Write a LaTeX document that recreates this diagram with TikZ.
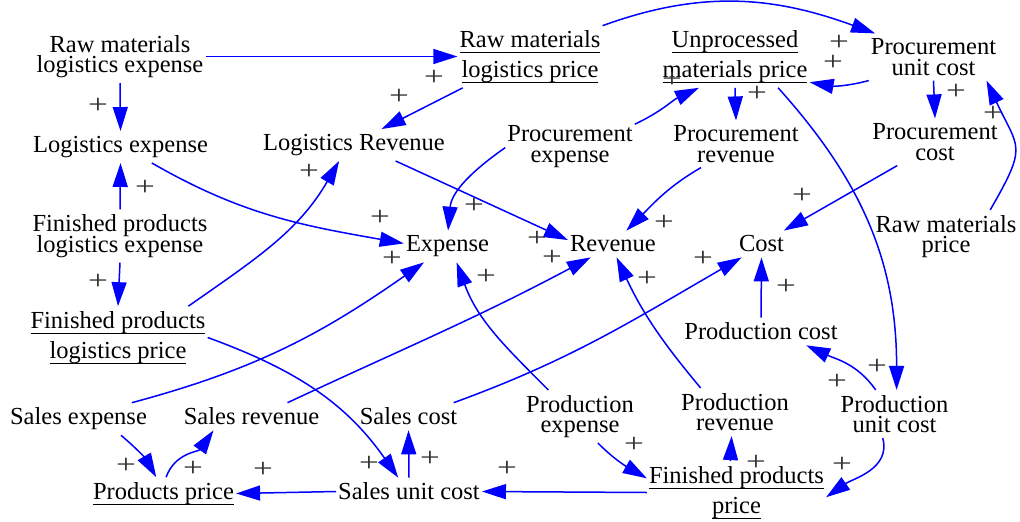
\documentclass[tikz,border=0pt]{standalone}
\usepackage{fontspec}
\setmainfont{Liberation Serif}
\usetikzlibrary{arrows.meta}
% underline drawn at a fixed distance below the baseline
\newcommand\ulin[1]{\setbox0\hbox{#1}\rlap{\smash{\rule[-6pt]{\wd0}{1.8pt}}}\box0}
\newcommand\varfont{\fontsize{24.5}{20.5}\selectfont\lineskiplimit=-40pt\relax}
\tikzset{
  var/.style={align=center, inner xsep=2pt, inner ysep=5pt, font=\varfont},
  link/.style={draw=blue, line width=1.5pt, -{Triangle[length=24pt,width=15pt]}},
  sgn/.style={font=\fontsize{27}{27}\selectfont, text=black!80, inner sep=0pt},
}
\begin{document}
\begin{tikzpicture}[x=1pt,y=1pt]
\path[use as bounding box] (0,0) rectangle (1020,-522);

% variables
\node[var] (rmle) at (120,-56.5) {Raw materials\\logistics expense};
\node[var] (le) at (120.5,-147) {Logistics expense};
\node[var] (fple) at (120,-236) {Finished products\\logistics expense};
\node[var] (fplp) at (118,-337.5) {\ulin{Finished products}\\[9.5pt]\ulin{logistics price}};
\node[var] (rmlp) at (530,-56.5) {\ulin{Raw materials}\\[9.5pt]\ulin{logistics price}};
\node[var] (ump) at (735,-56.5) {\ulin{Unprocessed}\\[9.5pt]\ulin{materials price}};
\node[var] (puc) at (933.5,-57) {Procurement\\unit cost};
\node[var] (lr) at (354,-145) {Logistics Revenue};
\node[var] (pe) at (570,-146.5) {Procurement\\expense};
\node[var] (prev) at (736,-144) {Procurement\\revenue};
\node[var] (pcost) at (935,-142) {Procurement\\cost};
\node[var] (expense) at (447.5,-246.5) {Expense};
\node[var] (revenue) at (613,-244) {Revenue};
\node[var] (cost) at (761.5,-244) {Cost};
\node[var] (rmp) at (946,-236.5) {Raw materials\\price};
\node[var] (prodcost) at (761,-331.5) {Production cost};
\node[var] (se) at (78.5,-419) {Sales expense};
\node[var] (sr) at (251.5,-416.5) {Sales revenue};
\node[var] (sc) at (408.5,-416.5) {Sales cost};
\node[var] (prode) at (580,-416.5) {Production\\expense};
\node[var] (prodr) at (735,-412) {Production\\revenue};
\node[var] (produc) at (894.5,-414) {Production\\unit cost};
\node[var] (pp) at (163.5,-493.5) {\ulin{Products price}};
\node[var] (suc) at (409,-491.5) {Sales unit cost};
\node[var] (fpp) at (736.5,-492.5) {\ulin{Finished products}\\[9.5pt]\ulin{price}};

% causal links
\draw[link] (rmle.east) -- (rmlp.west);
\draw[link] (rmle.south) -- (le.north);
\draw[link] (fple.north) -- (le.south);
\draw[link] (fple.south) -- (fplp.north);
\draw[link] (le.-27) to[out=-30,in=170] (expense.176);
\draw[link] (fplp.24) to[out=35,in=240] (lr.227);
\draw[link] (rmlp.205) -- (lr.30);
\draw[link] (lr.-21) -- (revenue.175);
\draw[link] (pe.181) to[out=215,in=85] (expense.88);
\draw[link] (pe.19) to[out=25,in=205] (ump.221);
\draw[link] (ump.south) -- (prev.north);
\draw[link] (puc.200) to[out=195,in=-10] (ump.-19.5);
\draw[link] (rmlp.23) to[out=20,in=160] (puc.158);
\draw[link] (puc.south) -- (pcost.north);
\draw[link] (rmp.31) to[out=60,in=-65,looseness=1.5] (puc.-24);
\draw[link] (prev.214) to[out=210,in=45] (revenue.45);
\draw[link] (pcost.212) -- (cost.31);
\draw[link] (ump.-36) to[out=-48,in=90] (produc.85);
\draw[link] (prodcost.north) -- (cost.south);
\draw[link] (produc.128) to[out=125,in=-25] (prodcost.-17);
\draw[link] (produc.-116) to[out=-75,in=35] (fpp.-3);
\draw[link] (fpp.west) -- (suc.east);
\draw[link] (suc.west) -- (pp.east);
\draw[link] (se.-21) to[out=-40,in=120] (pp.114);
\draw[link] (pp.81) to[out=70,in=235] (sr.200);
\draw[link] (suc.north) -- (sc.south);
\draw[link] (fplp.east) to[out=-20,in=125] (suc.128);
\draw[link] (se.17) to[out=15,in=215] (expense.214);
\draw[link] (sr.21) to[out=25,in=208] (revenue.211);
\draw[link] (sc.17) to[out=20,in=210] (cost.214);
\draw[link] (prode.140) to[out=135,in=-70] (expense.-60);
\draw[link] (prodr.145) to[out=130,in=-65] (revenue.-75);
\draw[link] (prode.-56) to[out=-45,in=150] (fpp.171);
\draw[link] (fpp.101) -- (prodr.-98);

% link polarities
\foreach \px/\py [count=\i] in {434/78, 399/97, 98/106, 309/172, 145/188, 474/206,
    380/218, 392/259, 537/239, 552/258, 486/277, 664/223, 647/279, 703/259,
    802/196, 786/287, 98/282, 672/80, 757/94, 839/43, 833/63, 956/92, 993/114,
    877/367, 837/382, 842/465, 634/445, 756/463, 507/469, 430/459, 369/464,
    263/470, 193/469, 126/466}
  \node[sgn] (s\i) at (\px,-\py) {\scalebox{1.3}[1]{+}};
\end{tikzpicture}
\end{document}
